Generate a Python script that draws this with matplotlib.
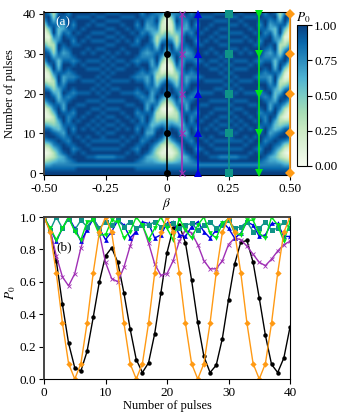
import numpy as np
import matplotlib
matplotlib.use('Agg')
import matplotlib.pyplot as plt

plt.rcParams['font.family'] = ['Liberation Serif', 'DejaVu Serif']
plt.rcParams['mathtext.fontset'] = 'stix'
plt.rcParams['font.size'] = 9.5

# values, one per pulse count
pulses = np.arange(41)
p_black = [1.0,.92,.73,.46,.22,.07,.05,.17,.38,.60,.76,.81,.72,.53,.31,.12,.04,.10,.28,.53,.78,.93,.95,.84,.61,.35,.14,.04,.085,.25,.49,.71,.845,.855,.72,.50,.27,.09,.04,.13,.32]
p_purple = [1.0,.92,.76,.63,.575,.65,.81,.93,.99,.90,.72,.62,.60,.69,.82,.93,.95,.84,.71,.64,.65,.73,.85,.92,.90,.83,.73,.68,.68,.73,.83,.87,.86,.82,.77,.72,.70,.74,.79,.83,.85]
p_blue = [1.0,.93,.85,.93,1.0,.93,.85,.92,.99,.93,.86,.91,.98,.95,.87,.91,.97,.96,.87,.89,.96,.97,.89,.88,.94,.97,.91,.87,.92,.97,.93,.87,.90,.97,.95,.88,.89,.96,.96,.88,.88]
p_teal = [1.0,.92,1.0,.93,.99,.92,.98,.94,.99,.93,.97,.95,.98,.94,.97,.93,.95,.95,.97,.94,.95,.96,.93,.95,.96,.92,.95,.97,.93,.95,.98,.93,.94,.97,.91,.93,.97,.92,.93,.97,.93]
p_green = [1.0,.93,.86,.93,1.0,.91,.86,.97,.98,.89,.89,.98,.97,.87,.91,1.0,.95,.86,.93,1.0,.93,.86,.99,.92,.87,.95,1.0,.90,.87,.96,.99,.90,.89,.98,.98,.90,.87,1.0,.95,.85,.97]
p_orange = [1.0,.905,.655,.345,.095,0,.095,.345,.655,.905,1.0,.905,.655,.345,.095,0,.095,.345,.655,.905,1.0,.905,.655,.345,.095,0,.095,.345,.655,.905,1.0,.905,.655,.345,.095,0,.095,.345,.655,.905,1.0]

# upper panel: one string per beta (0 to 0.5, step 0.02), one digit per pulse count, 9 = P0 of 1
c10 = "9979898989" "9898998989" "9898998989" "8998989989" "8"
c9 = "9979899898" "9989989989" "8998998989" "9899899898" "9"
c8 = "9979989989" "9899899899" "8998999899" "8998998998" "9"
c7 = "9979998998" "9998999899" "8999899989" "9989989998" "9"
c6 = "9878987899" "8789878998" "7898789878" "9987898789" "9"
c5 = "9877899878" "9987789987" "8998778987" "7899878998" "7"
c4 = "9876689987" "6789986678" "9876689987" "6789986678" "9"
heat_cols = [
    "9874210235" "7765310135" "7898531012" "4688652101" "3",
    "9874212368" "9975321357" "9986421246" "8997532235" "7",
    "9875434689" "9864335789" "8754346899" "8643357898" "7",
    "9876567898" "6656789866" "6788877667" "7887766777" "8",
    c4, c5, c6, c7, c8, c9, c10,
    "9979798989" "8989898989" "9898989898" "9989898989" "8",
    "9979798989" "8989898989" "8989898989" "8989898989" "8",
    "9979798988" "9898989898" "9898989898" "9898989898" "9",
    "9979798989" "8989898989" "8989898989" "9898989898" "9",
    c10, c9, c8, c7, c6, c5, c4,
    "9876567898" "7556899865" "5689986557" "8997655789" "8",
    "9875335789" "8643357898" "6433579986" "4335799864" "3",
    "9864212479" "9853123689" "9742124799" "8632135899" "7",
    "9863101368" "9863101368" "9863101368" "9863101368" "9",
]

marker_pulses = [0, 10, 20, 30, 40]
betas = [0, 0.0625, 0.125, 0.25, 0.375, 0.5]
beta_ticks = [-0.5, -0.25, 0, 0.25, 0.5]
beta_labels = ['-0.50', '-0.25', '0', '0.25', '0.50']
cbar_ticks = [0, 0.25, 0.5, 0.75, 1.0]
cbar_labels = ['0.00', '0.25', '0.50', '0.75', '1.00']

series = [p_black, p_purple, p_blue, p_teal, p_green, p_orange]
colors = ['black', '#a02fb5', '#0000e6', '#0f9488', '#00e61a', '#ff9a14']
markers = ['o', 'x', '^', 's', 'v', 'D']
sizes_top = [5.0, 4.8, 5.5, 5.8, 5.5, 5.2]
sizes_low = [3.2, 3.2, 3.4, 3.6, 3.4, 3.2]

half = np.array([[int(c) for c in col] for col in heat_cols]).T / 9.0
heat = np.hstack([half[:, :0:-1], half])

W, H = 338, 417
fig = plt.figure(figsize=(W / 100, H / 100), dpi=100)
ax1 = fig.add_axes([44 / W, 1 - 175 / H, 246 / W, 163 / H])
ax2 = fig.add_axes([44 / W, 1 - 379 / H, 246 / W, 162 / H])
cax = fig.add_axes([297 / W, 1 - 166 / H, 9.5 / W, 141 / H])

# (a)
im = ax1.imshow(heat, origin='lower', aspect='auto', cmap='GnBu', vmin=0, vmax=1,
                extent=(-0.51, 0.51, -0.5, 40.5), interpolation='bilinear')
for b, c, m, ms in zip(betas, colors, markers, sizes_top):
    ax1.plot([b] * len(marker_pulses), marker_pulses, color=c, marker=m, ms=ms, lw=1.2,
             clip_on=False, zorder=5, mew=0.8 if m == 'x' else 0)
ax1.set_xlim(-0.5, 0.5)
ax1.set_ylim(-0.5, 40.5)
ax1.set_xticks(beta_ticks)
ax1.set_xticklabels(beta_labels)
ax1.set_yticks(marker_pulses)
ax1.set_xlabel(r'$\beta$', labelpad=1)
ax1.set_ylabel('Number of pulses', fontsize=9, labelpad=5)
ax1.text(-0.455, 37.2, '(a)', color='white', fontsize=9.5)
ax1.tick_params(length=3.5, width=0.8, pad=2)

cb = fig.colorbar(im, cax=cax)
cb.set_ticks(cbar_ticks)
cb.set_ticklabels(cbar_labels)
cb.ax.tick_params(length=3.5, width=0.8, pad=2)
cax.set_title(r'$P_0$', fontsize=9.5, pad=2, x=0.7)

# (b)
for vals, c, m, ms in zip(series, colors, markers, sizes_low):
    ax2.plot(pulses, vals, color=c, marker=m, ms=ms, lw=1.0, mew=0.6 if m == 'x' else 0)
ax2.set_xlim(0, 40)
ax2.set_ylim(0, 1)
ax2.set_xticks([0, 10, 20, 30, 40])
ax2.set_yticks([0, 0.2, 0.4, 0.6, 0.8, 1.0])
ax2.set_xlabel('Number of pulses', fontsize=9, labelpad=1)
ax2.set_ylabel(r'$P_0$', labelpad=1, y=0.53)
ax2.text(2.0, 0.795, '(b)', fontsize=9.5)
ax2.tick_params(length=3.5, width=0.8, pad=2)
ax2.spines['top'].set_color('#444444')
ax2.spines['top'].set_linewidth(1.4)
ax2.spines['left'].set_color('#444444')
ax2.spines['left'].set_linewidth(1.4)
ax1.spines['left'].set_color('#444444')
ax1.spines['left'].set_linewidth(1.4)

fig.savefig('out.png', dpi=100)
